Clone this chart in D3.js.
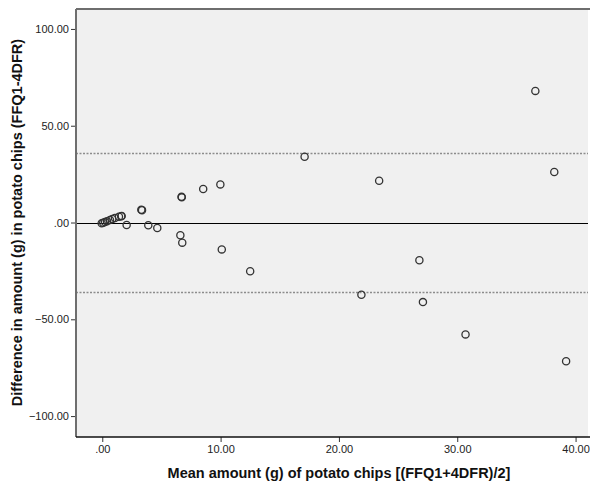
<!DOCTYPE html>
<html><head><meta charset="utf-8">
<script src="https://cdn.jsdelivr.net/npm/d3@7"></script>
<style>body{margin:0;background:#fff}svg{display:block}</style>
</head><body>
<svg id="c" width="590" height="488"></svg>
<script>
const meanVals = [-0.05,0.08,0.23,0.4,0.65,0.85,1.07,1.41,1.64,1.6,3.3,3.36,2.06,3.89,4.65,6.6,6.76,6.7,6.72,8.53,9.98,10.1,12.5,17.1,21.9,23.4,26.8,27.1,30.7,36.6,38.2,39.2];
const diffVals = [-0.4,-0.1,0.26,0.6,1.3,1.8,2.3,3.0,3.4,3.2,6.6,6.4,-1.3,-1.45,-2.8,-6.6,-10.4,13.3,13.0,17.3,19.7,-13.9,-25.2,34.0,-37.3,21.6,-19.5,-41.1,-57.8,68.0,26.1,-71.7];
const meanDiff = 0;
const lowerLoA = -35.9;
const upperLoA = 35.9;
const xTicks = [0,10,20,30,40];
const yTicks = [-100,-50,0,50,100];
const fmt = v => v === 0 ? ".00" : d3.format(".2f")(v);

const L=76, R=588, T=9, B=437;
const x = d3.scaleLinear().domain([-2.22,41.05]).range([L,R]);
const y = d3.scaleLinear().domain([-110.8,110.3]).range([B,T]);
const svg = d3.select("#c");

svg.append("rect").attr("x",L).attr("y",T).attr("width",R-L).attr("height",B-T).attr("fill","#f0f0f0");
svg.append("line").attr("x1",L).attr("x2",590).attr("y1",T).attr("y2",T).attr("stroke","#6e6e6e").attr("stroke-width",2);

[lowerLoA, upperLoA].forEach(v=>{
  svg.append("line").attr("x1",L).attr("x2",R).attr("y1",Math.round(y(v))+0.5).attr("y2",Math.round(y(v))+0.5)
    .attr("stroke","#8c8c8c").attr("stroke-width",1.5).attr("stroke-dasharray","2,1.5");
});
svg.append("line").attr("x1",L).attr("x2",R).attr("y1",Math.round(y(meanDiff))+0.5).attr("y2",Math.round(y(meanDiff))+0.5)
  .attr("stroke","#000").attr("stroke-width",1.2);

svg.append("g").selectAll("circle").data(meanVals.map((m,i)=>[m,diffVals[i]])).join("circle")
  .attr("cx",d=>x(d[0])).attr("cy",d=>y(d[1])).attr("r",3.6)
  .attr("fill","none").attr("stroke","#333").attr("stroke-width",1.3);

const yAxis = d3.axisLeft(y).tickValues(yTicks).tickFormat(fmt).tickSize(5).tickPadding(2);
const gy = svg.append("g").attr("transform",`translate(${L},0)`).call(yAxis);
gy.select(".domain").remove();
gy.append("line").attr("x1",0).attr("x2",0).attr("y1",T).attr("y2",B).attr("stroke","#6e6e6e").attr("stroke-width",2);
gy.selectAll(".tick line").attr("stroke","#333");
gy.selectAll(".tick text").attr("fill","#222").style("font-family","'Liberation Sans', Arial, sans-serif").style("font-size","11px");

const xAxis = d3.axisBottom(x).tickValues(xTicks).tickFormat(fmt).tickSize(5).tickPadding(3);
const gx = svg.append("g").attr("transform",`translate(0,${B})`).call(xAxis);
gx.select(".domain").remove();
gx.append("line").attr("x1",L).attr("x2",R+2).attr("y1",0).attr("y2",0).attr("stroke","#111").attr("stroke-width",1.3);
gx.selectAll(".tick line").attr("stroke","#333");
gx.selectAll(".tick text").attr("fill","#222").style("font-family","'Liberation Sans', Arial, sans-serif").style("font-size","11px");

svg.append("text").attr("x",339).attr("y",478).attr("text-anchor","middle")
  .style("font-family","'Liberation Sans', Arial, sans-serif").style("font-size","14.5px").style("font-weight","bold").attr("fill","#111")
  .text("Mean amount (g) of potato chips [(FFQ1+4DFR)/2]");
svg.append("text").attr("transform","translate(22,222.5) rotate(-90)").attr("text-anchor","middle")
  .style("font-family","'Liberation Sans', Arial, sans-serif").style("font-size","14.5px").style("font-weight","bold").attr("fill","#111")
  .text("Difference in amount (g) in potato chips (FFQ1-4DFR)");
</script>
</body></html>
